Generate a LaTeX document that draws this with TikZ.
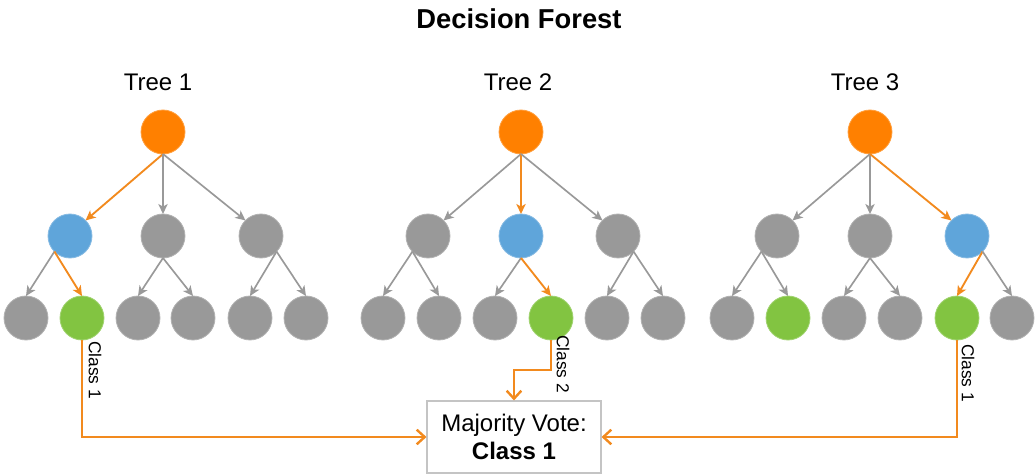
\documentclass[tikz,border=0pt]{standalone}
\usepackage{fontspec}
\setmainfont{Liberation Sans}
\usetikzlibrary{arrows.meta}
\definecolor{rootc}{HTML}{FF8000}
\definecolor{bluec}{HTML}{5FA5DA}
\definecolor{grayc}{HTML}{999999}
\definecolor{greenc}{HTML}{82C441}
\definecolor{pathc}{HTML}{F28A1E}
\definecolor{boxc}{HTML}{C4C4C4}
\begin{document}
\begin{tikzpicture}[x=0.75pt,y=-0.75pt,
  dot/.style={circle, minimum size=33pt, inner sep=0pt, outer sep=0pt,
    draw=#1!75!white, line width=0.6pt, fill=#1},
  edge/.style={draw=grayc, line width=1.25pt,
    -{Stealth[length=7.5pt,width=7pt,inset=2pt]}},
  hot/.style={edge, draw=pathc, line width=1.4pt},
  vote/.style={draw=pathc, line width=1.5pt,
    -{Straight Barb[length=6pt,width=11pt,line width=1.8pt]}},
  treelabel/.style={font=\fontsize{18}{21}\selectfont},
  cls/.style={font=\fontsize{13}{15}\selectfont, rotate=-90, inner sep=0pt}
]
\useasboundingbox (0,0) rectangle (1036,474);

% title and tree headings
\node[font=\fontsize{20.5}{24}\selectfont\bfseries] (title) at (519,19) {Decision Forest};
\node[treelabel] (h1) at (158,82) {Tree 1};
\node[treelabel] (h2) at (518,82) {Tree 2};
\node[treelabel] (h3) at (865,82) {Tree 3};

% ---- tree 1
\node[dot=rootc]  (t1r) at (163,132) {};
\node[dot=bluec]  (t1a) at (70,236) {};
\node[dot=grayc]  (t1b) at (163,236) {};
\node[dot=grayc]  (t1c) at (261,236) {};
\node[dot=grayc]  (t1l1) at (26,318) {};
\node[dot=greenc] (t1l2) at (82,318) {};
\node[dot=grayc]  (t1l3) at (138,318) {};
\node[dot=grayc]  (t1l4) at (193,318) {};
\node[dot=grayc]  (t1l5) at (250,318) {};
\node[dot=grayc]  (t1l6) at (306,318) {};
\draw[hot]  (t1r.south) -- (t1a.north east);
\draw[edge] (t1r.south) -- (t1b.north);
\draw[edge] (t1r.south) -- (t1c.north west);
\draw[edge] (t1a.south west) -- (t1l1.north);
\draw[hot]  (t1a.south west) -- (t1l2.north);
\draw[edge] (t1b.south) -- (t1l3.north);
\draw[edge] (t1b.south) -- (t1l4.north);
\draw[edge] (t1c.south east) -- (t1l5.north);
\draw[edge] (t1c.south east) -- (t1l6.north);

% ---- tree 2
\node[dot=rootc]  (t2r) at (521,132) {};
\node[dot=grayc]  (t2a) at (428,236) {};
\node[dot=bluec]  (t2b) at (521,236) {};
\node[dot=grayc]  (t2c) at (618,236) {};
\node[dot=grayc]  (t2l1) at (383,318) {};
\node[dot=grayc]  (t2l2) at (439,318) {};
\node[dot=grayc]  (t2l3) at (495,318) {};
\node[dot=greenc] (t2l4) at (551,318) {};
\node[dot=grayc]  (t2l5) at (607,318) {};
\node[dot=grayc]  (t2l6) at (663,318) {};
\draw[edge] (t2r.south) -- (t2a.north east);
\draw[hot]  (t2r.south) -- (t2b.north);
\draw[edge] (t2r.south) -- (t2c.north west);
\draw[edge] (t2a.south west) -- (t2l1.north);
\draw[edge] (t2a.south west) -- (t2l2.north);
\draw[edge] (t2b.south) -- (t2l3.north);
\draw[hot]  (t2b.south) -- (t2l4.north);
\draw[edge] (t2c.south east) -- (t2l5.north);
\draw[edge] (t2c.south east) -- (t2l6.north);

% ---- tree 3
\node[dot=rootc]  (t3r) at (870,132) {};
\node[dot=grayc]  (t3a) at (777,236) {};
\node[dot=grayc]  (t3b) at (870,236) {};
\node[dot=bluec]  (t3c) at (967,236) {};
\node[dot=grayc]  (t3l1) at (732,318) {};
\node[dot=greenc] (t3l2) at (788,318) {};
\node[dot=grayc]  (t3l3) at (844,318) {};
\node[dot=grayc]  (t3l4) at (900,318) {};
\node[dot=greenc] (t3l5) at (957,318) {};
\node[dot=grayc]  (t3l6) at (1012,318) {};
\draw[edge] (t3r.south) -- (t3a.north east);
\draw[edge] (t3r.south) -- (t3b.north);
\draw[hot]  (t3r.south) -- (t3c.north west);
\draw[edge] (t3a.south west) -- (t3l1.north);
\draw[edge] (t3a.south west) -- (t3l2.north);
\draw[edge] (t3b.south) -- (t3l3.north);
\draw[edge] (t3b.south) -- (t3l4.north);
\draw[hot]  (t3c.south east) -- (t3l5.north);
\draw[edge] (t3c.south east) -- (t3l6.north);

% ---- majority vote
\node[draw=boxc, line width=0.8pt, minimum width=130.5pt, minimum height=54pt,
  align=center, inner sep=0pt, font=\fontsize{18}{21}\selectfont] (vote) at (514,437)
  {Majority Vote:\\\textbf{Class 1}};

\coordinate (k2) at (514,370);
\draw[vote] (t1l2.south) |- (vote.west);
\draw[vote] (t2l4.south) |- (k2) -- (vote.north);
\draw[vote] (t3l5.south) |- (vote.east);

\node[cls] (c1) at (95,370) {Class 1};
\node[cls] (c2) at (563,364) {Class 2};
\node[cls] (c3) at (968,373) {Class 1};
\end{tikzpicture}
\end{document}
